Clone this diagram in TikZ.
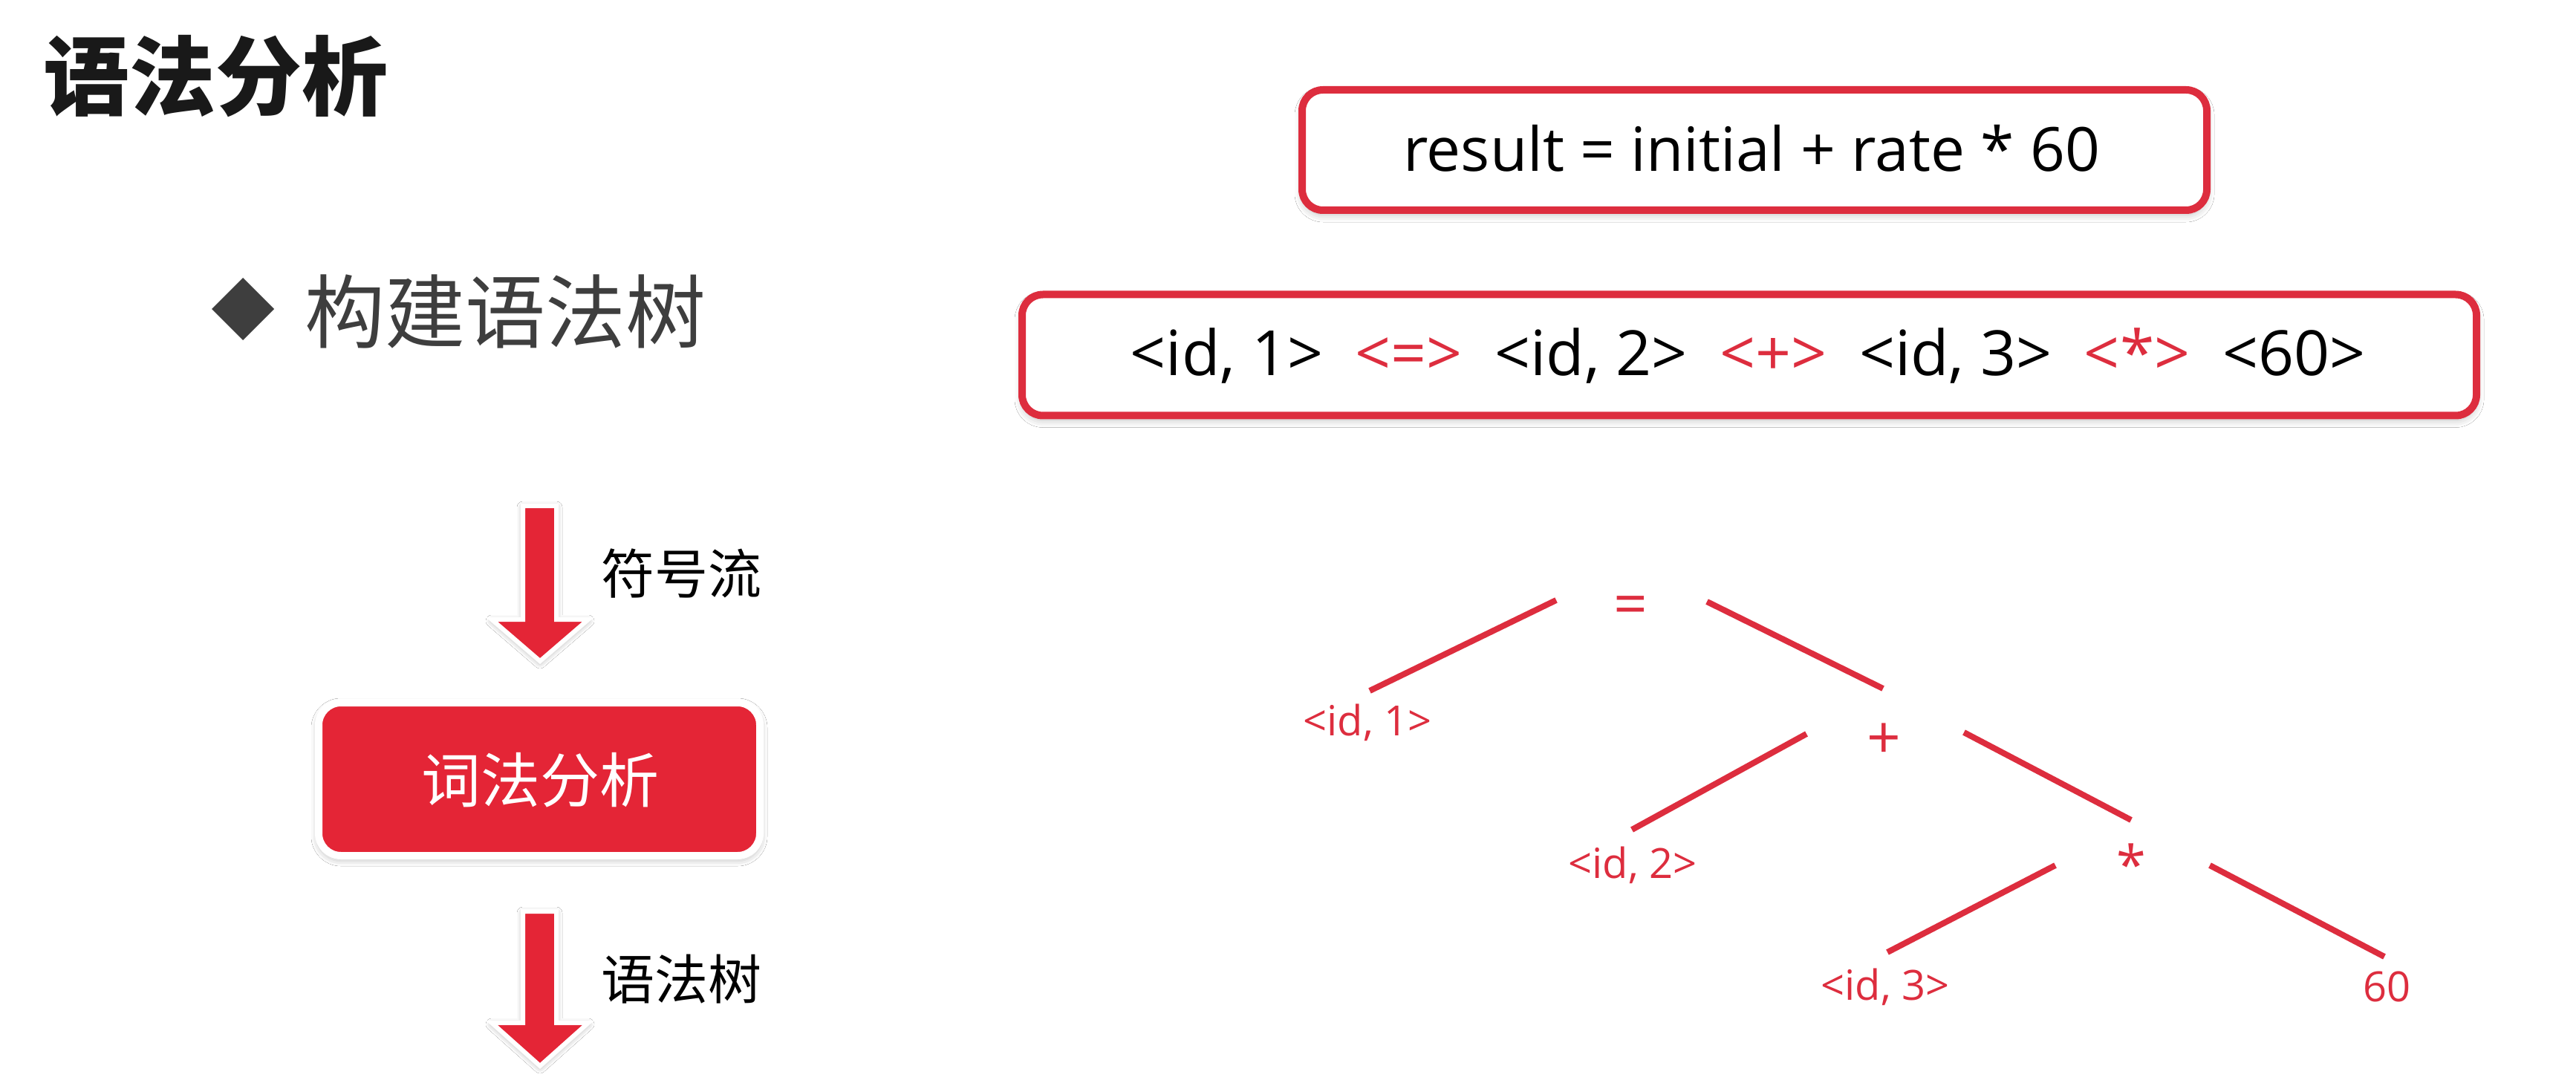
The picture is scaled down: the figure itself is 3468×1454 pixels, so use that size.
\documentclass[tikz,border=0pt]{standalone}
\usepackage{fontspec}
\setmainfont{Open Sans}
\newfontfamily\cjk{Noto Sans CJK SC}
\usetikzlibrary{shadows.blur}
\definecolor{mred}{RGB}{221,45,62}
\definecolor{fred}{RGB}{228,37,54}
\definecolor{dgray}{RGB}{62,62,62}
\tikzset{
  outbox/.style={draw=mred, line width=5pt, rounded corners=14pt, fill=white,
    blur shadow={shadow xshift=0pt, shadow yshift=-3pt, shadow blur radius=5pt, shadow opacity=25}},
  procbox/.style={draw=white, line width=5pt, rounded corners=15pt, fill=fred,
    blur shadow={shadow xshift=0pt, shadow yshift=-2pt, shadow blur radius=5pt, shadow opacity=35}},
  flowarrow/.style={fill=fred, draw=white, line width=3pt, line join=miter,
    blur shadow={shadow xshift=0pt, shadow yshift=-1pt, shadow blur radius=4pt, shadow opacity=35}},
  boxtext/.style={inner sep=0, anchor=base, font=\fontsize{42}{50}\selectfont},
  tlab/.style={inner sep=0, anchor=base, text=mred, font=\fontsize{28}{34}\selectfont},
  top/.style={inner sep=0, anchor=base, text=mred, font=\fontsize{40}{48}\selectfont},
  tedge/.style={draw=mred, line width=4pt},
  cjklab/.style={inner sep=0, font=\cjk\fontsize{36}{42}\selectfont},
}
\begin{document}
\begin{tikzpicture}[x=0.5pt,y=-0.5pt]
\useasboundingbox[fill=white] (0,0) rectangle (3468,1454);

% title and subtitle
\node[inner sep=0, anchor=west, text=black!90, font=\cjk\bfseries\fontsize{58}{66}\selectfont] (title) at (58,103) {语法分析};
\fill[dgray] (285,416) -- (327,374) -- (369,416) -- (327,458) -- cycle;
\node[inner sep=0, text=dgray, font=\cjk\fontsize{54}{60}\selectfont] (sub) at (680,420) {构建语法树};

% left flow
\path[flowarrow] (704,681) -- (749,681) -- (749,834) -- (792,834) -- (727,890) -- (662,834) -- (704,834) -- cycle;
\node[cjklab] (lab1) at (917,772) {符号流};
\node[procbox, minimum width=297pt, minimum height=103pt] (lex) at (726,1049) {};
\node[inner sep=0, text=white, font=\cjk\fontsize{40}{46}\selectfont] (lextext) at (727,1050) {词法分析};
\path[flowarrow] (704,1227) -- (749,1227) -- (749,1377) -- (792,1377) -- (727,1435) -- (662,1377) -- (704,1377) -- cycle;
\node[cjklab] (lab2) at (917,1318) {语法树};

% boxes on the right
\node[outbox, minimum width=609pt, minimum height=81pt] (expr) at (2362,202) {};
\node[boxtext, font=\fontsize{41}{49}\selectfont] (exprtext) at (2358,231) {result = initial + rate * 60};
\node[outbox, minimum width=979pt, minimum height=81.5pt] (tok) at (2355,478) {};
\node[boxtext] (toktext) at (2353,506) {<id, 1>\ \ \textcolor{mred}{<=>}\ \ <id, 2>\ \ \textcolor{mred}{<+>}\ \ <id, 3>\ \ \textcolor{mred}{<*>}\ \ <60>};

% syntax tree
\node[top] (eq) at (2195,841) {=};
\node[top] (plus) at (2536,1021) {+};
\node[top, font=\fontsize{36}{42}\selectfont] (star) at (2869,1190) {*};
\node[tlab] (id1) at (1841,990) {<id, 1>};
\node[tlab] (id2) at (2198,1182) {<id, 2>};
\node[tlab] (id3) at (2538,1346) {<id, 3>};
\node[tlab] (sixty) at (3213,1348) {60};

\coordinate (eqL) at (2095,808);  \coordinate (id1T) at (1844,930);
\coordinate (eqR) at (2298,810);  \coordinate (plusT) at (2535,927);
\coordinate (plusL) at (2432,988); \coordinate (id2T) at (2197,1117);
\coordinate (plusR) at (2644,986); \coordinate (starT) at (2869,1104);
\coordinate (starL) at (2767,1165); \coordinate (id3T) at (2541,1282);
\coordinate (starR) at (2975,1165); \coordinate (sixtyT) at (3210,1288);
\draw[tedge] (eqL) -- (id1T);
\draw[tedge] (eqR) -- (plusT);
\draw[tedge] (plusL) -- (id2T);
\draw[tedge] (plusR) -- (starT);
\draw[tedge] (starL) -- (id3T);
\draw[tedge] (starR) -- (sixtyT);
\end{tikzpicture}
\end{document}
